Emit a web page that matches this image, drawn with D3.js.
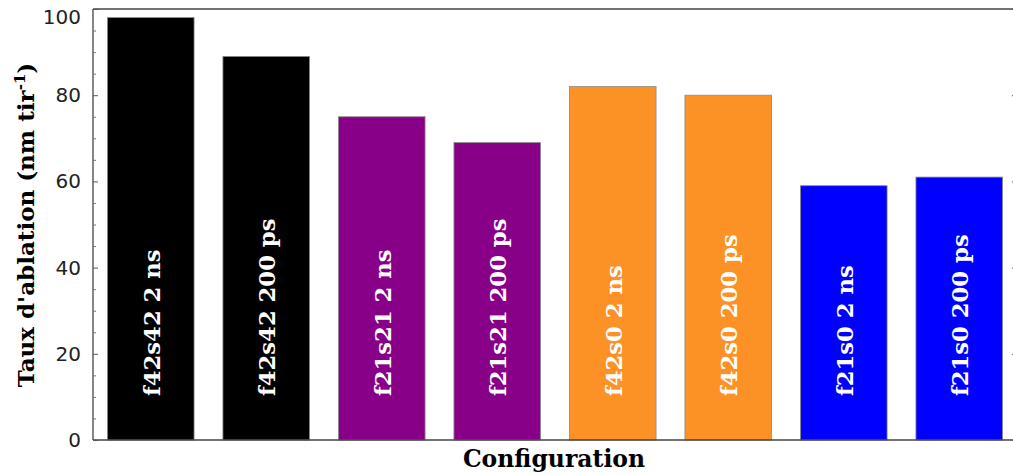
<!DOCTYPE html>
<html>
<head>
<meta charset="utf-8">
<script src="https://cdn.jsdelivr.net/npm/d3@7"></script>
<style>
html,body{margin:0;padding:0;background:#fff;overflow:hidden;}
svg{display:block;}
</style>
</head>
<body>
<script>
const categories = ["f42s42 2 ns","f42s42 200 ps","f21s21 2 ns","f21s21 200 ps","f42s0 2 ns","f42s0 200 ps","f21s0 2 ns","f21s0 200 ps"];
const values = [98, 89, 75, 69, 82, 80, 59, 61];
const colors = ["#000000","#000000","#880088","#880088","#fc9126","#fc9126","#0000ff","#0000ff"];
const majorTicks = [0, 20, 40, 60, 80, 100];
const minorTicks = d3.range(0, 101, 5);

const W = 1013, H = 475;
const L = 93, R = 1017, T = 9, B = 440;

const svg = d3.select("body").append("svg").attr("width", W).attr("height", H);

const x = d3.scaleBand().domain(categories).range([L, R]).paddingInner(0.25).paddingOuter(0.125);
const y = d3.scaleLinear().domain([0, 100]).range([B, T]);

// bars
svg.append("g").selectAll("rect").data(categories).join("rect")
  .attr("x", d => x(d))
  .attr("y", (d, i) => y(values[i]))
  .attr("width", x.bandwidth())
  .attr("height", (d, i) => y(0) - y(values[i]))
  .attr("fill", (d, i) => colors[i])
  .attr("stroke", "#8a8a8a")
  .attr("stroke-width", 0.8);

// bar labels
svg.append("g").selectAll("text").data(categories).join("text")
  .attr("transform", d => `translate(${x(d) + x.bandwidth() / 2 + 9},396) rotate(-90)`)
  .attr("text-anchor", "start")
  .attr("font-family", "DejaVu Serif")
  .attr("font-weight", "bold")
  .attr("font-size", 22.7)
  .attr("fill", "#fff")
  .text(d => d);

// frame
const frame = svg.append("g").attr("stroke", "#444").attr("fill", "none");
frame.append("line").attr("x1", L).attr("x2", L).attr("y1", T).attr("y2", B).attr("stroke-width", 1.3);
frame.append("line").attr("x1", L).attr("x2", R).attr("y1", B).attr("y2", B).attr("stroke-width", 1.6);
frame.append("line").attr("x1", L).attr("x2", R).attr("y1", T).attr("y2", T).attr("stroke-width", 1.3);
frame.append("line").attr("x1", R).attr("x2", R).attr("y1", T).attr("y2", B).attr("stroke-width", 1.3);

// left axis: ticks inward
const leftAxis = d3.axisLeft(y).tickValues(majorTicks).tickSize(-5).tickPadding(12).tickFormat(d3.format("d"));
const ga = svg.append("g").attr("transform", `translate(${L},0)`).call(leftAxis);
ga.select(".domain").remove();
ga.selectAll(".tick line").attr("stroke", "#555");
ga.selectAll(".tick text").attr("font-family", "DejaVu Sans").attr("font-size", 20).attr("fill", "#222")
  .attr("dy", d => d === 100 ? "0.74em" : "0.32em");

const minorAxis = d3.axisLeft(y).tickValues(minorTicks.filter(v => majorTicks.indexOf(v) < 0)).tickSize(-3).tickFormat("");
const gm = svg.append("g").attr("transform", `translate(${L},0)`).call(minorAxis);
gm.select(".domain").remove();
gm.selectAll(".tick line").attr("stroke", "#777");

// right axis ticks (mirror)
const rightAxis = d3.axisRight(y).tickValues(majorTicks).tickSize(-5).tickFormat("");
const gr = svg.append("g").attr("transform", `translate(${R},0)`).call(rightAxis);
gr.select(".domain").remove();
gr.selectAll(".tick line").attr("stroke", "#555");
const rightMinor = d3.axisRight(y).tickValues(minorTicks.filter(v => majorTicks.indexOf(v) < 0)).tickSize(-3).tickFormat("");
const grm = svg.append("g").attr("transform", `translate(${R},0)`).call(rightMinor);
grm.select(".domain").remove();
grm.selectAll(".tick line").attr("stroke", "#777");

// axis titles
svg.append("text")
  .attr("x", 554).attr("y", 467)
  .attr("text-anchor", "middle")
  .attr("font-family", "DejaVu Serif").attr("font-weight", "bold").attr("font-size", 23.5)
  .attr("fill", "#000")
  .text("Configuration");

const yl = svg.append("text")
  .attr("transform", "translate(34,225) rotate(-90)")
  .attr("text-anchor", "middle")
  .attr("font-family", "DejaVu Serif").attr("font-weight", "bold").attr("font-size", 23)
  .attr("fill", "#000");
yl.append("tspan").text("Taux d'ablation (nm tir");
yl.append("tspan").attr("dy", -9).attr("font-size", 15).text("-1");
yl.append("tspan").attr("dy", 9).text(")");
</script>
</body>
</html>
